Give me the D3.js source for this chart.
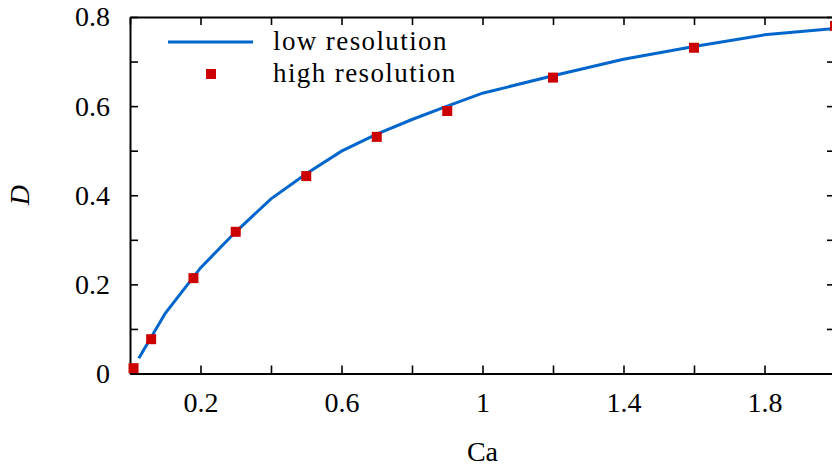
<!DOCTYPE html>
<html lang="en">
<head>
<meta charset="utf-8">
<title>D vs Ca</title>
<style type="text/css">
    body {
        margin: 0;
        background-color: #fff;
    }
    svg {
        display: block;
        background-color: white;
    }
    text {
        font-family: "Liberation Serif", "DejaVu Serif", serif;
        fill: #000;
    }
    .axis path, .axis line {
        stroke: #000;
        stroke-width: 1.6px;
    }
    .axis text {
        font-size: 28px;
    }
    .legendText {
        font-size: 27px;
        letter-spacing: 1.4px;
    }
</style>
<script src="https://d3js.org/d3.v7.min.js"></script>
</head>
<body>
<div id="chart"></div>
<script>

// low resolution run (line)
var lowCa = [0.025, 0.1, 0.2, 0.3, 0.4, 0.5, 0.6, 0.7, 0.8, 0.9, 1.0, 1.2, 1.4, 1.6, 1.8, 2.0];
var lowD  = [0.034, 0.135, 0.237, 0.318, 0.392, 0.448, 0.499, 0.537, 0.570, 0.600, 0.629, 0.668, 0.705, 0.734, 0.760, 0.774];

// high resolution run (squares)
var highCa = [0.01, 0.06, 0.18, 0.3, 0.5, 0.7, 0.9, 1.2, 1.6, 2.0];
var highD  = [0.012, 0.077, 0.214, 0.318, 0.443, 0.531, 0.589, 0.664, 0.731, 0.780];

var xTicks = [0.2, 0.6, 1, 1.4, 1.8];
var xMinor = [0, 0.4, 0.8, 1.2, 1.6, 2];
var yTicks = [0, 0.2, 0.4, 0.6, 0.8];
var yMinor = [0.1, 0.3, 0.5, 0.7];

var legendLabels = ['low resolution', 'high resolution'];

var width = 832, height = 468;
var plotLeft = 130, plotRight = 835, plotTop = 17, plotBottom = 373.5;
var tickLen = 8;

var svg = d3.select('#chart')
    .append('svg')
    .attr('width', width)
    .attr('height', height);

var xScale = d3.scaleLinear()
    .domain([0, 2])
    .range([plotLeft, plotRight]);

var yScale = d3.scaleLinear()
    .domain([0, 0.8])
    .range([plotBottom, plotTop]);

// bottom axis, ticks pointing inward
var xAxis = d3.axisBottom(xScale)
    .tickValues(xTicks.concat(xMinor))
    .tickSizeInner(-tickLen)
    .tickSizeOuter(0)
    .tickPadding(19)
    .tickFormat(function(d) { return xTicks.indexOf(d) >= 0 ? d3.format('~g')(d) : ''; });

svg.append('g')
    .attr('class', 'axis')
    .attr('transform', 'translate(0,' + plotBottom + ')')
    .call(xAxis);

// top border
svg.append('g')
    .attr('class', 'axis')
    .attr('transform', 'translate(0,' + plotTop + ')')
    .call(d3.axisTop(xScale)
        .tickValues(xTicks.concat(xMinor))
        .tickSizeInner(-tickLen)
        .tickSizeOuter(0)
        .tickFormat(''));

// left axis
var yAxis = d3.axisLeft(yScale)
    .tickValues(yTicks.concat(yMinor))
    .tickSizeInner(-tickLen)
    .tickSizeOuter(0)
    .tickPadding(20)
    .tickFormat(function(d) { return yTicks.indexOf(d) >= 0 ? d3.format('~g')(d) : ''; });

svg.append('g')
    .attr('class', 'axis')
    .attr('transform', 'translate(' + plotLeft + ',0)')
    .call(yAxis);

// right border
svg.append('g')
    .attr('class', 'axis')
    .attr('transform', 'translate(' + plotRight + ',0)')
    .call(d3.axisRight(yScale)
        .tickValues(yTicks.concat(yMinor))
        .tickSizeInner(-tickLen)
        .tickSizeOuter(0)
        .tickFormat(''));

svg.selectAll('.axis .domain').style('stroke-width', '2px');

// axis titles
svg.append('text')
    .attr('x', xScale(1))
    .attr('y', 461)
    .attr('text-anchor', 'middle')
    .style('font-size', '28px')
    .text('Ca');

svg.append('text')
    .attr('transform', 'translate(29,' + yScale(0.4) + ') rotate(-90)')
    .attr('text-anchor', 'middle')
    .style('font-size', '28px')
    .style('font-style', 'italic')
    .text('D');

// low resolution line
var lowData = lowCa.map(function(c, i) { return { ca: c, d: lowD[i] }; });
var line = d3.line()
    .x(function(d) { return xScale(d.ca); })
    .y(function(d) { return yScale(d.d); });

svg.append('path')
    .datum(lowData)
    .attr('d', line)
    .attr('fill', 'none')
    .attr('stroke', '#0066cc')
    .attr('stroke-width', 3);

// high resolution squares
var highData = highCa.map(function(c, i) { return { ca: c, d: highD[i] }; });
var ms = 10;
svg.selectAll('.dot')
    .data(highData)
    .enter()
    .append('rect')
    .attr('class', 'dot')
    .attr('x', function(d) { return xScale(d.ca) - ms / 2; })
    .attr('y', function(d) { return yScale(d.d) - ms / 2; })
    .attr('width', ms)
    .attr('height', ms)
    .attr('fill', '#cc0000');

// legend
var legend = svg.append('g');
legend.append('line')
    .attr('x1', 168).attr('x2', 253)
    .attr('y1', 42).attr('y2', 42)
    .attr('stroke', '#0066cc')
    .attr('stroke-width', 3);
legend.append('rect')
    .attr('x', 211 - ms / 2).attr('y', 74 - ms / 2)
    .attr('width', ms).attr('height', ms)
    .attr('fill', '#cc0000');
legend.selectAll('.legendText')
    .data(legendLabels)
    .enter()
    .append('text')
    .attr('class', 'legendText')
    .attr('x', 273)
    .attr('y', function(d, i) { return 50 + i * 32; })
    .text(function(d) { return d; });

</script>
</body>
</html>
